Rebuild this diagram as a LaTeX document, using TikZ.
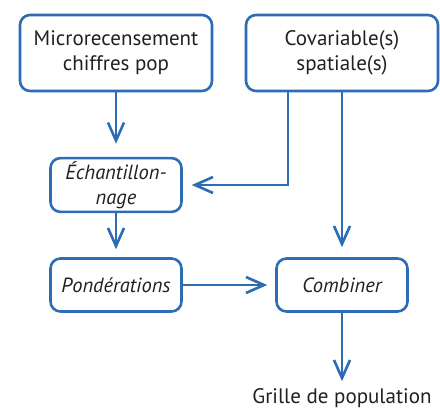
\documentclass[tikz,border=0pt]{standalone}
\usepackage{fontspec}
\setmainfont{PT Sans}
\usepackage{xcolor}
\usetikzlibrary{calc,arrows.meta}
\definecolor{flowblue}{HTML}{2E6DB4}
\definecolor{inkgrey}{HTML}{231F20}

\begin{document}
\begin{tikzpicture}[x=1pt,y=-1pt]
    % Styles for boxes and lines
    \tikzset{
      box/.style={rectangle, rounded corners=10pt, draw=flowblue, line width=2.6pt, align=center, text=inkgrey, font=\fontsize{21}{25}\selectfont},
      bigbox/.style={box, minimum width=192pt, minimum height=76pt},
      smallbox/.style={box, minimum width=131pt, minimum height=53pt, font=\fontsize{20.5}{25}\selectfont\itshape},
      arrow/.style={draw=flowblue, line width=2.6pt, -{Straight Barb[length=18pt,width=16pt,line width=2.6pt]}}
    }
    \useasboundingbox (0,0) rectangle (440,410);

    % Nodes with explicit coordinates
    \node[bigbox] (micro) at (116,53) {Microrecensement\\chiffres pop};
    \node[bigbox] (covar) at (342,53) {Covariable(s)\\spatiale(s)};
    \node[smallbox] (echant) at (116,185) {Échantillon-\\nage};
    \node[smallbox] (ponder) at (116,285) {Pondérations};
    \node[smallbox] (combin) at (342,285) {Combiner};
    \node[text=inkgrey, font=\fontsize{21}{25}\selectfont, inner sep=2pt] (grille) at (342,398) {Grille de population};

    % Arrows
    \draw[arrow, shorten >=13pt] (micro) -- (echant);
    \draw[arrow, shorten >=9pt] ([xshift=-54pt]covar.south) |- (echant.east);
    \draw[arrow, shorten >=10pt] (covar) -- (combin);
    \draw[arrow, shorten >=8pt] (echant) -- (ponder);
    \draw[arrow, shorten >=8pt] (ponder) -- (combin);
    \draw[arrow, shorten >=5pt] (combin) -- (grille);

\end{tikzpicture}
\end{document}
